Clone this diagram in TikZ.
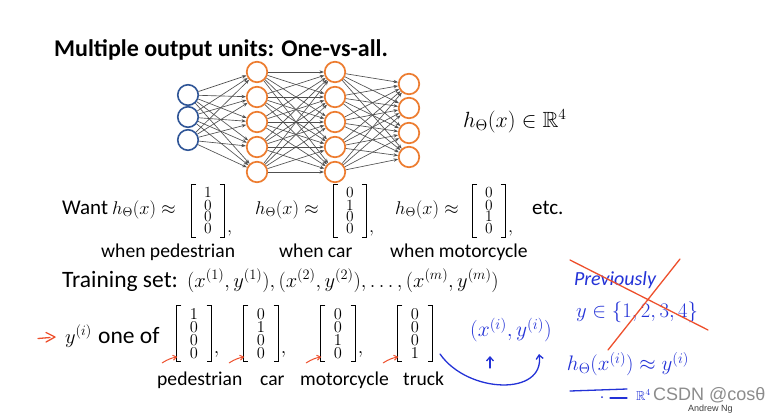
\RequirePackage{fix-cm}
\documentclass[tikz,border=0pt]{standalone}
\usepackage{amsmath,amssymb}
\usepackage[no-math]{fontspec}
\setmainfont{Carlito}
\newfontfamily\wmfont{Liberation Sans}
\usetikzlibrary{arrows.meta}
\definecolor{nblue}{RGB}{47,85,151}
\definecolor{norange}{RGB}{237,125,49}
\definecolor{hblue}{RGB}{35,50,215}
\definecolor{hred}{RGB}{238,80,45}
\definecolor{edgec}{RGB}{80,80,80}
% #1 name, #2 x, #3 y, #4 digit size, #5 row pitch, #6 entries, #7 xsep, #8 ysep
\newcommand\mymat[8]{%
  \node[matx,inner xsep=#7,inner ysep=#8,font=\fontsize{#4}{#5}\selectfont] (#1) at (#2,#3) {#6};
  \draw[brk] ([xshift=5pt]#1.north west) -- (#1.north west) -- (#1.south west) -- ([xshift=5pt]#1.south west);
  \draw[brk] ([xshift=-5pt]#1.north east) -- (#1.north east) -- (#1.south east) -- ([xshift=-5pt]#1.south east);
}
\begin{document}
\begin{tikzpicture}[x=1pt,y=-1pt,
  inunit/.style={circle,draw=nblue,line width=1.6pt,minimum size=20.5pt,inner sep=0pt},
  hidunit/.style={circle,draw=norange,line width=1.7pt,minimum size=20.5pt,inner sep=0pt},
  nnedge/.style={draw=edgec,line width=0.65pt,-{Stealth[length=4.5pt,width=3.4pt]}},
  txt/.style={anchor=base west,inner sep=0pt,font=\fontsize{21}{25}\selectfont},
  bigtxt/.style={anchor=base west,inner sep=0pt,font=\fontsize{23.5}{27}\selectfont},
  lbl/.style={anchor=base west,inner sep=0pt,font=\fontsize{19.6}{23}\selectfont},
  mth/.style={anchor=base west,inner sep=0pt},
  matx/.style={align=center},
  brk/.style={line width=1pt},
  hand/.style={hblue,line width=1.3pt,line cap=round,line join=round},
  handr/.style={hred,line width=1.3pt,line cap=round,line join=round},
]
\useasboundingbox[fill=white] (0,0) rectangle (782,413);

% title
\node[anchor=base west,inner sep=0pt,font=\fontsize{24}{28}\selectfont\bfseries] (title) at (54,56) {Multiple output units: One-vs-all.};

% network
\foreach \y [count=\i] in {95,117,140} \node[inunit] (a\i) at (188,\y) {};
\foreach \y [count=\i] in {72,97,122,147,172} \node[hidunit] (b\i) at (257,\y) {};
\foreach \y [count=\i] in {72,97,122,147,172} \node[hidunit] (c\i) at (335,\y) {};
\foreach \y [count=\i] in {84,108,133,157} \node[hidunit] (d\i) at (409,\y) {};
\foreach \i in {1,...,3} \foreach \j in {1,...,5} \draw[nnedge] (a\i) -- (b\j);
\foreach \i in {1,...,5} \foreach \j in {1,...,5} \draw[nnedge] (b\i) -- (c\j);
\foreach \i in {1,...,5} \foreach \j in {1,...,4} \draw[nnedge] (c\i) -- (d\j);

\node[mth,font=\fontsize{22}{26}\selectfont] (hR) at (463,127) {$h_\Theta(x)\in\mathbb{R}^4$};

% Want row
\node[txt] (want) at (62,214) {Want};
\node[mth,font=\fontsize{18.4}{22}\selectfont] (h1) at (112,214) {$h_\Theta(x)\approx$};
\mymat{w1}{208}{211}{15.5}{12}{$1$\\$0$\\$0$\\$0$}{13}{3}
\node[mth,font=\fontsize{18.4}{22}\selectfont] (cw1) at ([xshift=2pt]w1.east |- 0,232) {$,$};
\node[mth,font=\fontsize{18.4}{22}\selectfont] (h2) at (255,214) {$h_\Theta(x)\approx$};
\mymat{w2}{350}{211}{15.5}{12}{$0$\\$1$\\$0$\\$0$}{13}{3}
\node[mth,font=\fontsize{18.4}{22}\selectfont] (cw2) at ([xshift=2pt]w2.east |- 0,232) {$,$};
\node[mth,font=\fontsize{18.4}{22}\selectfont] (h3) at (395,214) {$h_\Theta(x)\approx$};
\mymat{w3}{489}{211}{15.5}{12}{$0$\\$0$\\$1$\\$0$}{13}{3}
\node[mth,font=\fontsize{18.4}{22}\selectfont] (cw3) at ([xshift=2pt]w3.east |- 0,232) {$,$};
\node[txt] (etc) at (532,214) {etc.};

\node[lbl] (wp) at (101,257) {when pedestrian};
\node[lbl] (wc) at (279,257) {when car};
\node[lbl] (wm) at (390,257) {when motorcycle};

% training set
\node[bigtxt] (train) at (62,287) {Training set:};
\node[mth,font=\fontsize{20.5}{24}\selectfont] (tset) at (187,287) {$(x^{(1)},y^{(1)}),(x^{(2)},y^{(2)}),\ldots,(x^{(m)},y^{(m)})$};

% y one of row
\node[mth,font=\fontsize{20.5}{24}\selectfont] (yi) at (65,343) {$y^{(i)}$};
\node[bigtxt] (oneof) at (98,343) {one of};
\mymat{m1}{194}{333.5}{16.5}{13}{$1$\\$0$\\$0$\\$0$}{13.5}{3.3}
\node[mth,font=\fontsize{20}{24}\selectfont] (cm1) at ([xshift=2pt]m1.east |- 0,353) {$,$};
\mymat{m2}{261}{333.5}{16.5}{13}{$0$\\$1$\\$0$\\$0$}{13.5}{3.3}
\node[mth,font=\fontsize{20}{24}\selectfont] (cm2) at ([xshift=2pt]m2.east |- 0,353) {$,$};
\mymat{m3}{338}{333.5}{16.5}{13}{$0$\\$0$\\$1$\\$0$}{13.5}{3.3}
\node[mth,font=\fontsize{20}{24}\selectfont] (cm3) at ([xshift=2pt]m3.east |- 0,353) {$,$};
\mymat{m4}{415}{333.5}{16.5}{13}{$0$\\$0$\\$0$\\$1$}{13.5}{3.3}

\node[lbl] (lp) at (157,385) {pedestrian};
\node[lbl] (lc) at (260,385) {car};
\node[lbl] (lm) at (300,385) {motorcycle};
\node[lbl] (lt) at (403,385) {truck};

% red hand arrows
\draw[handr] (38,338.5) -- (50,337.5);
\draw[handr] (46,332.5) -- (55,337) -- (46,342);
\foreach \m in {m1,m2,m3,m4}
  \draw[handr,line width=1pt,-{Straight Barb[length=3.5pt,width=5pt]}]
    ([xshift=-14pt,yshift=-1pt]\m.south west) to[bend left=10] ([xshift=1pt,yshift=5pt]\m.south west);

% handwritten annotations
\node[hblue,font=\fontsize{20}{24}\selectfont\itshape] (prev) at (615,280) {Previously};
\node[hblue,font=\fontsize{20.7}{24}\selectfont] (yset) at (637,312) {$y\in\{1,2,3,4\}$};
\coordinate (x1a) at (570,260); \coordinate (x1b) at (708,330);
\coordinate (x2a) at (680,259); \coordinate (x2b) at (608,350);
\draw[handr] (x1a) -- (x1b);
\draw[handr] (x2a) -- (x2b);

\node[hblue,font=\fontsize{21.5}{26}\selectfont] (xy) at (511,330) {$(x^{(i)},y^{(i)})$};
\coordinate (ua) at (490,368);
\draw[hand,-{Straight Barb[length=4pt,width=7pt]}] (ua) -- (490,356);
\coordinate (cs) at (440,354);
\draw[hand,-{Straight Barb[length=4pt,width=7pt]}] (cs) .. controls (468,394) and (545,396) .. (539,354);

\node[hblue,font=\fontsize{21}{25}\selectfont] (hx) at (628,364) {$h_\Theta(x^{(i)})\approx y^{(i)}$};
\draw[hand] (570,391) -- (627,389);
\fill[hblue] (602,397) circle (1pt);
\draw[hand] (610,398) -- (627,398);
\node[hblue,font=\fontsize{13}{15}\selectfont,anchor=base west,inner sep=0pt] (R4) at (636,400) {$\mathbb{R}^4$};

% watermark and credit
\node[anchor=base west,inner sep=0pt,font=\fontsize{9}{10}\selectfont\wmfont,text=black!75] (ng) at (688,411.5) {Andrew Ng};
\node[anchor=base west,inner sep=0pt,font=\fontsize{18}{20}\selectfont\wmfont,text=black!45] (wm) at (653,400) {CSDN @cosθ};
\end{tikzpicture}
\end{document}
